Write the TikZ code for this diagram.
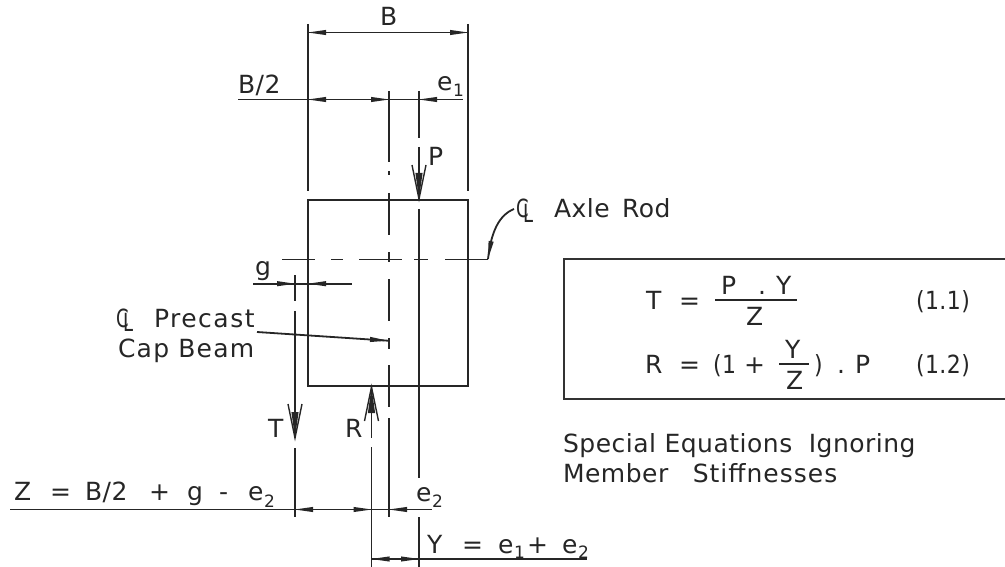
\documentclass[tikz,border=0pt]{standalone}
\usepackage{fontspec}
\setmainfont[LetterSpace=2]{DejaVu Sans}
\tikzset{
  x=1pt,y=-1pt,
  ln/.style={line width=1.8pt,draw=black!85},
  thick ln/.style={line width=2.1pt,draw=black!85},
  boxln/.style={line width=2.4pt,draw=black!80},
  lab/.style={anchor=base west,inner sep=0pt,outer sep=0pt,text=black!85,font=\fontsize{25}{30}\selectfont},
  sub/.style={anchor=base west,inner sep=0pt,outer sep=0pt,text=black!85,font=\fontsize{17}{20}\selectfont},
  eqn/.style={lab,xscale=.88},
  clmark/.style={lab,xscale=.72},
  dimtip/.pic={\fill[black!85] (0,0) -- (18,-2.6) -- (18,2.6) -- cycle;},
  forcetip/.pic={
    \fill[black!85] (0,0) -- (26,-3.6) -- (26,3.6) -- cycle;
    \draw[line width=1.4pt,draw=black!85] (34,-7) -- (0,0) -- (34,7);
  }
}
\newcommand{\tipat}[3]{\path (#1,#2) pic[rotate=#3] {dimtip};}
\newcommand{\forceat}[3]{\path (#1,#2) pic[rotate=#3] {forcetip};}
\newcommand{\clsign}{\rlap{C}\hspace{10pt}\raisebox{-4.5pt}{L}}
\begin{document}
\begin{tikzpicture}
\useasboundingbox (0,0) rectangle (1005,567);
% beam
\draw[thick ln] (308,200) rectangle (468,386);
% extension lines
\draw[thick ln] (308,24) -- (308,191);
\draw[thick ln] (468,24) -- (468,191);
% B dimension
\draw[ln] (308,32.5) -- (468,32.5);
\tipat{308}{32.5}{0}\tipat{468}{32.5}{180}
% B/2 and e1
\draw[ln] (238,99.5) -- (463,99.5);
\tipat{308}{99.5}{0}\tipat{389}{99.5}{180}\tipat{419}{99.5}{0}
% centre line of cap beam
\draw[ln] (389,91) -- (389,162);
\draw[ln] (389,171.5) -- (389,175);
\draw[ln] (389,193) -- (389,235);
\draw[ln] (389,252) -- (389,262);
\draw[ln] (389,279) -- (389,321);
\draw[ln] (389,338) -- (389,349);
\draw[ln] (389,365) -- (389,407);
\draw[ln] (389,418) -- (389,517);
% P line
\draw[ln] (419,91) -- (419,138);
\draw[ln] (419,147) -- (419,199);
\forceat{419}{199}{90}
\draw[ln] (419,209) -- (419,478);
\draw[ln] (419,517) -- (419,567);
% R line
\draw[ln] (371.5,387) -- (371.5,438);
\forceat{371.5}{387}{270}
\draw[ln] (371.5,447) -- (371.5,567);
% T line
\draw[ln] (295,275) -- (295,301);
\draw[ln] (295,311) -- (295,438);
\forceat{295}{438}{90}
\draw[ln] (295,448) -- (295,517);
% axle centre line
\draw[ln] (282,259.5) -- (315,259.5);
\draw[ln] (331,259.5) -- (343,259.5);
\draw[ln] (359,259.5) -- (402,259.5);
\draw[ln] (414,259.5) -- (428,259.5);
\draw[ln] (445,259.5) -- (488,259.5);
\draw[ln] (488,259) .. controls (491,232) and (499,215) .. (514,209);
\tipat{488}{259}{80}
% g dimension
\draw[ln] (253,283.7) -- (352,283.7);
\tipat{295}{283.7}{180}\tipat{308}{283.7}{0}
% precast leader
\draw[ln] (257,332) -- (388,340.7);
\tipat{388}{340.7}{176}
% Z and e2
\draw[ln] (10,509.5) -- (432,509.5);
\tipat{295}{509.5}{0}\tipat{371.5}{509.5}{180}\tipat{389}{509.5}{0}
% Y
\draw[ln] (371.5,559) -- (587,559);
\tipat{371.5}{559}{0}\tipat{419}{559}{180}
% equation box (right edge runs off the picture)
\draw[boxln] (1005,259) -- (564,259) -- (564,399) -- (1005,399);
\draw[ln] (715,300) -- (797,300);
\draw[ln] (779,364) -- (809,364);
% labels
\node[lab] (tB) at (380,26) {B};
\node[lab] (tB2) at (238,94) {B/2};
\node[lab] (te1) at (437,91) {e};
\node[sub] (te1s) at (453,97) {1};
\node[lab] (tP) at (428,166) {P};
\node[lab] (tg) at (255,276) {g};
\node[lab] (tT) at (268,437) {T};
\node[lab] (tR) at (345,437) {R};
\node[clmark] (tCa) at (516,218) {\clsign};
\node[lab] (tAxle) at (554,218) {Axle\hspace{4pt} Rod};
\node[clmark] (tCb) at (116,327) {\clsign};
\node[lab] (tPrecast) at (154,327) {\addfontfeature{LetterSpace=6}Precast};
\node[lab] (tCap) at (118,357) {\addfontfeature{LetterSpace=5}Cap Beam};
\node[lab] (tZ) at (14,500) {Z};
\node[lab] (tZa) at (50,500) {=};
\node[lab] (tZb) at (85,500) {B/2};
\node[lab] (tZc) at (149,500) {+};
\node[lab] (tZd) at (187,500) {g};
\node[lab] (tZe) at (219,500) {-};
\node[lab] (tZf) at (248,500) {e};
\node[sub] (tZs) at (264,507) {2};
\node[lab] (te2) at (416,501) {e};
\node[sub] (te2s) at (432,507) {2};
\node[lab] (tY) at (427,553) {Y};
\node[lab] (tYe) at (462,553) {=};
\node[lab] (tYa) at (498,553) {e};
\node[sub] (tYb) at (514,558) {1};
\node[lab] (tYc) at (527,553) {+};
\node[lab] (tYd) at (562,553) {e};
\node[sub] (tYf) at (578,558) {2};
% equations
\node[lab] (e1) at (646,309) {T};
\node[lab] (e2) at (679,309) {=};
\node[lab] (e3) at (721,294) {P};
\node[lab] (e4) at (758,294) {.};
\node[lab] (e5) at (776,294) {Y};
\node[lab] (e6) at (746,325) {Z};
\node[eqn] (e7) at (916,309) {(1.1)};
\node[lab] (f1) at (645,373) {R};
\node[lab] (f2) at (679,373) {=};
\node[eqn] (f3) at (713,373) {(1};
\node[lab] (f4) at (744,373) {+};
\node[lab] (f5) at (785,358) {Y};
\node[lab] (f6) at (786,389) {Z};
\node[eqn] (f7) at (814,373) {)};
\node[lab] (f8) at (837,373) {.};
\node[lab] (f9) at (855,373) {P};
\node[eqn] (f10) at (916,373) {(1.2)};
% caption
\node[lab] (c1) at (563,452) {Special Equations\hspace{8pt} Ignoring};
\node[lab] (c2) at (563,482) {Member\hspace{16pt} \addfontfeature{LetterSpace=4}Stiffnesses};
\end{tikzpicture}
\end{document}
